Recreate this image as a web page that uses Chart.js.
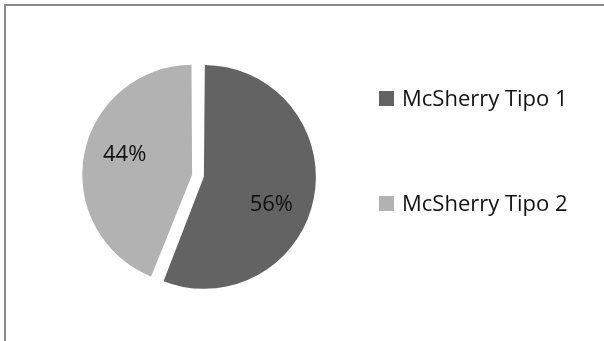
<!DOCTYPE html>
<html>
<head>
<meta charset="utf-8">
<script src="https://cdn.jsdelivr.net/npm/chart.js@4/dist/chart.umd.min.js"></script>
<style>
  html, body { margin: 0; padding: 0; background: #ffffff; }
  #wrap { width: 604px; height: 341px; position: relative; }
</style>
</head>
<body>
<div id="wrap"><canvas id="c" width="604" height="341"></canvas></div>
<script>
const categories = ["McSherry Tipo 1", "McSherry Tipo 2"];
const values = [56, 44];
const sliceColors = ["#636363", "#b2b2b2"];
const percentLabels = ["56%", "44%"];

const FONT = "'Open Sans', 'DejaVu Sans', sans-serif";

const frame = {
  id: 'frame',
  beforeDraw(chart) {
    const ctx = chart.ctx;
    ctx.save();
    ctx.fillStyle = '#ffffff';
    ctx.fillRect(0, 0, chart.width, chart.height);
    ctx.strokeStyle = '#8a8a8a';
    ctx.lineWidth = 2;
    ctx.strokeRect(5, 5, chart.width + 20, chart.height + 20);
    ctx.restore();
  }
};

const sliceLabels = {
  id: 'sliceLabels',
  afterDatasetsDraw(chart, args, opts) {
    const ctx = chart.ctx;
    const meta = chart.getDatasetMeta(0);
    ctx.save();
    ctx.font = opts.size + 'px ' + FONT;
    ctx.fillStyle = '#111111';
    ctx.textAlign = 'center';
    ctx.textBaseline = 'middle';
    meta.data.forEach((arc, i) => {
      const p = arc.getProps(['x', 'y', 'startAngle', 'endAngle', 'outerRadius']);
      const off = (arc.options.offset || 0) / 4; // Chart.js draws arcs shifted (and grown) by offset/4
      const r = p.outerRadius + off;
      const mid = (p.startAngle + p.endAngle) / 2;
      const a = mid + opts.shift;
      const x = p.x + Math.cos(mid) * off + Math.cos(a) * r * opts.ratio;
      const y = p.y + Math.sin(mid) * off + Math.sin(a) * r * opts.ratio + opts.dy;
      ctx.fillText(percentLabels[i], x, y);
    });
    ctx.restore();
  }
};

// legend drawn beside the pie, items taken from the chart's labels and colours
const sideLegend = {
  id: 'sideLegend',
  afterDraw(chart, args, opts) {
    const ctx = chart.ctx;
    const ds = chart.data.datasets[0];
    ctx.save();
    ctx.font = opts.size + 'px ' + FONT;
    ctx.textAlign = 'left';
    ctx.textBaseline = 'middle';
    chart.data.labels.forEach((lab, i) => {
      const cy = opts.y + i * opts.gap;
      ctx.fillStyle = ds.backgroundColor[i];
      ctx.fillRect(opts.x, cy - opts.box / 2, opts.box, opts.box);
      ctx.fillStyle = '#111111';
      ctx.fillText(lab, opts.x + opts.box + opts.textGap, cy + 1);
    });
    ctx.restore();
  }
};

new Chart(document.getElementById('c'), {
  type: 'pie',
  data: {
    labels: categories,
    datasets: [{
      data: values,
      backgroundColor: sliceColors,
      borderWidth: 0,
      offset: 24,
      radius: 106,
      clip: false
    }]
  },
  options: {
    responsive: false,
    animation: false,
    events: [],
    layout: { padding: { left: 0, right: 208, top: 20, bottom: 9.5 } },
    plugins: {
      tooltip: { enabled: false },
      title: { display: false },
      legend: { display: false },
      sliceLabels: { size: 22, ratio: 0.64, shift: 9 * Math.PI / 180, dy: 4 },
      sideLegend: { x: 379, y: 98.5, gap: 105, box: 15, textGap: 8, size: 22 }
    }
  },
  plugins: [frame, sliceLabels, sideLegend]
});
</script>
</body>
</html>
